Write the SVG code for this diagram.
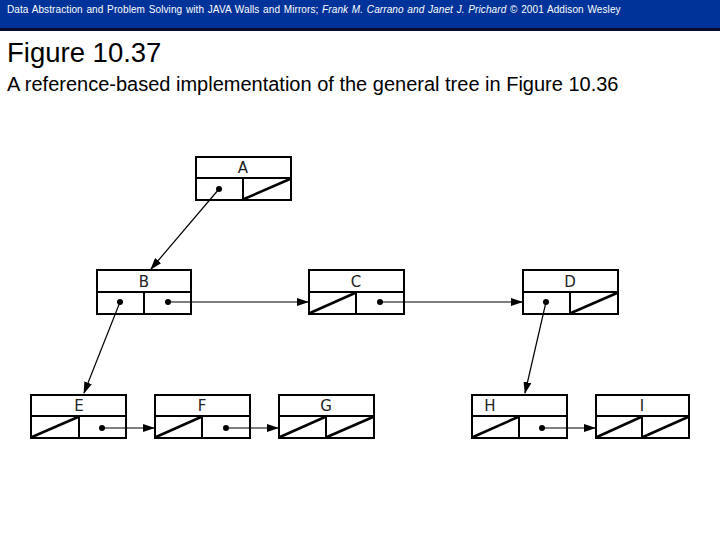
<svg xmlns="http://www.w3.org/2000/svg" width="720" height="540" viewBox="0 0 720 540">
<style>
.b{fill:#fff;stroke:#000;stroke-width:2}
.d{stroke:#000;stroke-width:2}
.s{stroke:#000;stroke-width:2.5}
.t{font-family:"DejaVu Sans",sans-serif;font-size:15px;text-anchor:middle;fill:#222}
.c{stroke:#000;stroke-width:1.2;fill:none;marker-end:url(#ar)}
</style>
<defs>
<marker id="ar" markerWidth="12" markerHeight="8" refX="11" refY="4" orient="auto" markerUnits="userSpaceOnUse"><path d="M0,0 L12,4 L0,8 z" fill="#000"/></marker>
</defs>
<rect x="0" y="0" width="720" height="29" fill="#003399"/>
<rect x="0" y="28" width="720" height="3" fill="#0a0a2a"/>
<text x="7" y="13" font-family="Liberation Sans,sans-serif" font-size="10" letter-spacing="0.1" word-spacing="0.8" fill="#fff">Data Abstraction and Problem Solving with JAVA   Walls and Mirrors;  <tspan font-style="italic">Frank M. Carrano and Janet J. Prichard</tspan>  © 2001 Addison Wesley</text>
<text x="7" y="62" font-family="Liberation Sans,sans-serif" font-size="27.5" fill="#000">Figure 10.37</text>
<text x="7" y="91" font-family="Liberation Sans,sans-serif" font-size="20" fill="#000">A reference-based implementation of the general tree in Figure 10.36</text>
<g id="A"><rect class="b" x="196" y="157" width="95" height="43"/><line class="d" x1="196" y1="178" x2="291" y2="178"/><line class="d" x1="243" y1="178" x2="243" y2="200"/><text class="t" x="243" y="173">A</text><circle cx="219" cy="189" r="3"/><line class="s" x1="244" y1="199" x2="290" y2="179"/></g>
<g id="B"><rect class="b" x="97" y="270" width="94" height="44"/><line class="d" x1="97" y1="292" x2="191" y2="292"/><line class="d" x1="144" y1="292" x2="144" y2="314"/><text class="t" x="144" y="287">B</text><circle cx="120" cy="302" r="3"/><circle cx="168" cy="302" r="3"/></g>
<g id="C"><rect class="b" x="309" y="270" width="95" height="44"/><line class="d" x1="309" y1="292" x2="404" y2="292"/><line class="d" x1="356" y1="292" x2="356" y2="314"/><text class="t" x="356" y="287">C</text><line class="s" x1="310" y1="313" x2="355" y2="293"/><circle cx="380" cy="302" r="3"/></g>
<g id="D"><rect class="b" x="523" y="270" width="95" height="44"/><line class="d" x1="523" y1="292" x2="618" y2="292"/><line class="d" x1="570" y1="292" x2="570" y2="314"/><text class="t" x="570" y="287">D</text><circle cx="546" cy="302" r="3"/><line class="s" x1="571" y1="313" x2="617" y2="293"/></g>
<g id="E"><rect class="b" x="31" y="395" width="95" height="43"/><line class="d" x1="31" y1="416" x2="126" y2="416"/><line class="d" x1="79" y1="416" x2="79" y2="438"/><text class="t" x="79" y="411">E</text><line class="s" x1="32" y1="437" x2="78" y2="417"/><circle cx="102" cy="428" r="3"/></g>
<g id="F"><rect class="b" x="155" y="395" width="95" height="43"/><line class="d" x1="155" y1="416" x2="250" y2="416"/><line class="d" x1="202" y1="416" x2="202" y2="438"/><text class="t" x="202" y="411">F</text><line class="s" x1="156" y1="437" x2="201" y2="417"/><circle cx="226" cy="428" r="3"/></g>
<g id="G"><rect class="b" x="279" y="395" width="95" height="43"/><line class="d" x1="279" y1="416" x2="374" y2="416"/><line class="d" x1="326" y1="416" x2="326" y2="438"/><text class="t" x="326" y="411">G</text><line class="s" x1="280" y1="437" x2="325" y2="417"/><line class="s" x1="327" y1="437" x2="373" y2="417"/></g>
<g id="H"><rect class="b" x="472" y="395" width="95" height="43"/><line class="d" x1="472" y1="416" x2="567" y2="416"/><line class="d" x1="519" y1="416" x2="519" y2="438"/><text class="t" x="490" y="411">H</text><line class="s" x1="473" y1="437" x2="518" y2="417"/><circle cx="542" cy="428" r="3"/></g>
<g id="I"><rect class="b" x="596" y="395" width="93" height="43"/><line class="d" x1="596" y1="416" x2="689" y2="416"/><line class="d" x1="642" y1="416" x2="642" y2="438"/><text class="t" x="642" y="411">I</text><line class="s" x1="597" y1="437" x2="641" y2="417"/><line class="s" x1="643" y1="437" x2="688" y2="417"/></g>
<g id="connectors">
<line class="c" x1="219" y1="189" x2="151" y2="269"/>
<line class="c" x1="120" y1="302" x2="84" y2="393"/>
<line class="c" x1="168" y1="302" x2="308" y2="302"/>
<line class="c" x1="380" y1="302" x2="522" y2="302"/>
<line class="c" x1="546" y1="302" x2="525" y2="393"/>
<line class="c" x1="102" y1="428" x2="154" y2="428"/>
<line class="c" x1="226" y1="428" x2="278" y2="428"/>
<line class="c" x1="542" y1="428" x2="595" y2="428"/>
</g>
</svg>
